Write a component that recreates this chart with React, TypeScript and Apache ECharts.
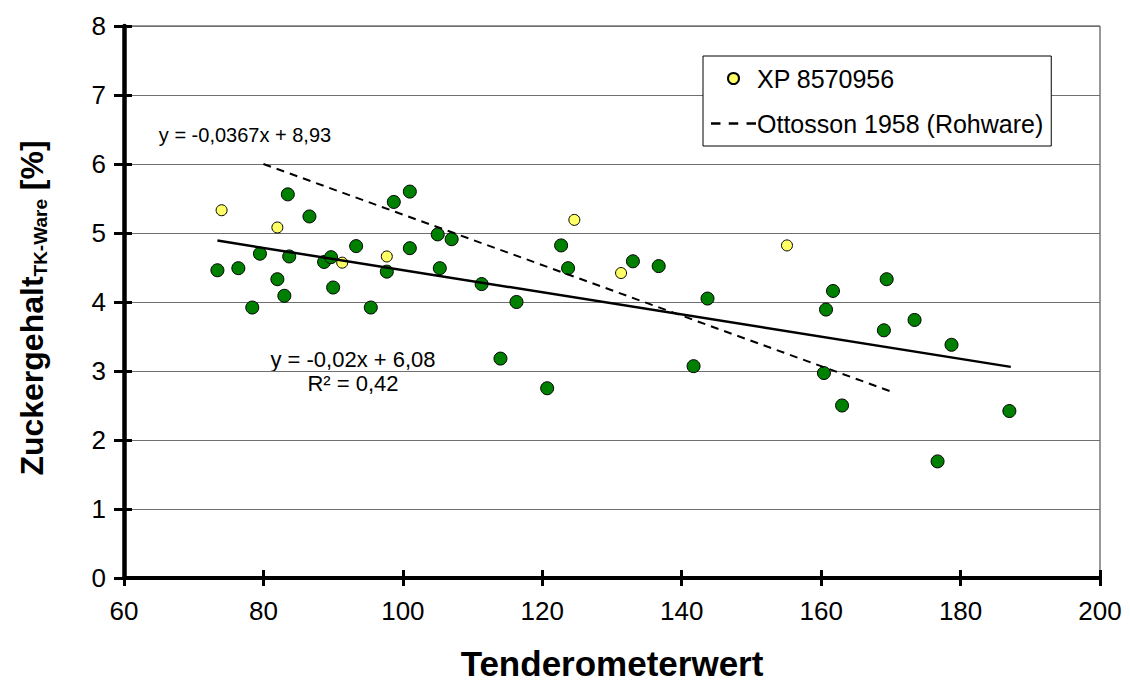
import React, { useEffect, useRef } from "react";
import * as echarts from "echarts";

const FONT = '"Liberation Sans", Arial, Helvetica, sans-serif';

// Green points (Tenderometerwert, Zuckergehalt TK-Ware)
const greenX = [83.5, 86.6, 98.7, 101.0, 105.0, 107.0, 79.5, 83.7, 73.4, 76.4, 82.0, 83.0, 78.4, 88.7, 89.7, 90.0, 95.4, 93.3, 97.7, 101.0, 105.3, 111.3, 116.3, 122.7, 123.7, 133.0, 136.7, 143.7, 114.0, 120.7, 141.7, 161.7, 169.4, 160.7, 173.4, 169.0, 178.7, 160.4, 163.0, 187.0, 176.7];
const greenY = [5.56, 5.24, 5.45, 5.60, 4.98, 4.91, 4.70, 4.66, 4.46, 4.49, 4.33, 4.09, 3.92, 4.58, 4.65, 4.21, 3.92, 4.81, 4.44, 4.78, 4.49, 4.26, 4.00, 4.82, 4.49, 4.59, 4.52, 4.05, 3.18, 2.75, 3.07, 4.16, 4.33, 3.89, 3.74, 3.59, 3.38, 2.97, 2.50, 2.42, 1.69];

// XP 8570956 (yellow)
const xpX = [74.0, 82.0, 91.3, 97.7, 124.6, 131.3, 155.1];
const xpY = [5.33, 5.08, 4.57, 4.66, 5.19, 4.42, 4.82];

// Trend line (solid) end points as drawn
const trendX = [73.4, 187.2];
const trendY = [4.89, 3.06];

// Ottosson 1958 (Rohware) dashed line end points
const ottX = [80.0, 170.1];
const ottY = [6.0, 2.7];

const xTicks = { min: 60, max: 200, interval: 20 };
const yTicks = { min: 0, max: 8, interval: 1 };

const zip = (a: number[], b: number[]) => a.map((v, i) => [v, b[i]]);

const DASH_ICON = "path://M0,0h8v2h-8zM15,0h8v2h-8zM30,0h8v2h-8z";

export default function App() {
  const ref = useRef<HTMLDivElement>(null);
  useEffect(() => {
    if (!ref.current) return;
    const chart = echarts.init(ref.current, null, { renderer: "svg" });
    const tickStyle = { color: "#000", width: 3 };
    chart.setOption({
      animation: false,
      backgroundColor: "#fff",
      grid: {
        left: 124,
        top: 26,
        right: 30,
        bottom: 104,
        containLabel: false,
        outerBoundsMode: "none",
        show: true,
        borderColor: "#333",
        borderWidth: 1,
        backgroundColor: "transparent",
      },
      legend: {
        data: [
          { name: "XP 8570956", icon: "circle" },
          { name: "Ottosson 1958 (Rohware)", icon: DASH_ICON },
        ],
        orient: "vertical",
        left: 703,
        top: 56,
        padding: [10, 8, 10, 8],
        itemGap: 20,
        itemWidth: 45,
        itemHeight: 11,
        backgroundColor: "#fff",
        borderColor: "#000",
        borderWidth: 1,
        borderRadius: 0,
        textStyle: { fontFamily: FONT, fontSize: 25, color: "#000", padding: [0, 0, 0, -4] },
      },
      xAxis: [
        {
          type: "value",
          ...xTicks,
          position: "bottom",
          axisLine: { show: true, onZero: false, lineStyle: { color: "#000", width: 4 } },
          axisTick: { show: true, inside: false, length: 8, lineStyle: tickStyle },
          axisLabel: { fontFamily: FONT, fontSize: 26, color: "#000", margin: 20 },
          splitLine: { show: false },
          name: "Tenderometerwert",
          nameLocation: "middle",
          nameGap: 68,
          nameTextStyle: { fontFamily: FONT, fontSize: 35, fontWeight: "bold", color: "#000" },
        },
        {
          type: "value",
          ...xTicks,
          position: "bottom",
          axisLine: { show: false, onZero: false },
          axisTick: { show: true, inside: true, length: 8, lineStyle: tickStyle },
          axisLabel: { show: false },
          splitLine: { show: false },
        },
      ],
      yAxis: [
        {
          type: "value",
          ...yTicks,
          position: "left",
          axisLine: { show: true, onZero: false, lineStyle: { color: "#000", width: 4.5 } },
          axisTick: { show: true, inside: false, length: 10, lineStyle: tickStyle },
          axisLabel: { fontFamily: FONT, fontSize: 26, color: "#000", margin: 18 },
          splitLine: { show: true, lineStyle: { color: "#6f6f6f", width: 1.2 } },
        },
        {
          type: "value",
          ...yTicks,
          position: "left",
          axisLine: { show: false, onZero: false },
          axisTick: { show: true, inside: true, length: 8, lineStyle: tickStyle },
          axisLabel: { show: false },
          splitLine: { show: false },
        },
      ],
      graphic: [
        {
          type: "text",
          x: 32,
          y: 308,
          rotation: Math.PI / 2,
          style: {
            text: "{a|Zuckergehalt}{b|TK-Ware}{a| [%]}",
            align: "center",
            verticalAlign: "middle",
            fill: "#000",
            rich: {
              a: { fontFamily: FONT, fontSize: 32, fontWeight: "bold", lineHeight: 36, fill: "#000" },
              b: { fontFamily: FONT, fontSize: 19, fontWeight: "bold", lineHeight: 21, verticalAlign: "bottom", fill: "#000" },
            },
          },
        },
        {
          type: "text",
          x: 245,
          y: 135,
          style: { text: "y = -0,0367x + 8,93", fontFamily: FONT, fontSize: 20, fill: "#000", align: "center", verticalAlign: "middle" },
        },
        {
          type: "text",
          x: 353,
          y: 359,
          style: { text: "y = -0,02x + 6,08", fontFamily: FONT, fontSize: 22, fill: "#000", align: "center", verticalAlign: "middle" },
        },
        {
          type: "text",
          x: 353,
          y: 383,
          style: { text: "R² = 0,42", fontFamily: FONT, fontSize: 22, fill: "#000", align: "center", verticalAlign: "middle" },
        },
      ],
      series: [
        {
          name: "Zuckergehalt",
          type: "scatter",
          data: zip(greenX, greenY),
          symbol: "circle",
          symbolSize: 13,
          itemStyle: { color: "#008000", borderColor: "#000", borderWidth: 1, opacity: 1 },
          z: 3,
        },
        {
          name: "XP 8570956",
          type: "scatter",
          data: zip(xpX, xpY),
          symbol: "circle",
          symbolSize: 11,
          itemStyle: { color: "#ffff66", borderColor: "#000", borderWidth: 1, opacity: 1 },
          z: 3,
        },
        {
          name: "Trend",
          type: "line",
          data: zip(trendX, trendY),
          symbol: "none",
          lineStyle: { color: "#000", width: 2.5 },
          z: 4,
        },
        {
          name: "Ottosson 1958 (Rohware)",
          type: "line",
          data: zip(ottX, ottY),
          symbol: "none",
          itemStyle: { color: "#000" },
          lineStyle: { color: "#000", width: 2, type: [8, 6] },
          z: 4,
        },
      ],
    });
    return () => chart.dispose();
  }, []);
  return (
    <div
      ref={ref}
      style={{ position: "fixed", left: 0, top: 0, width: 1130, height: 682, background: "#fff" }}
    />
  );
}
